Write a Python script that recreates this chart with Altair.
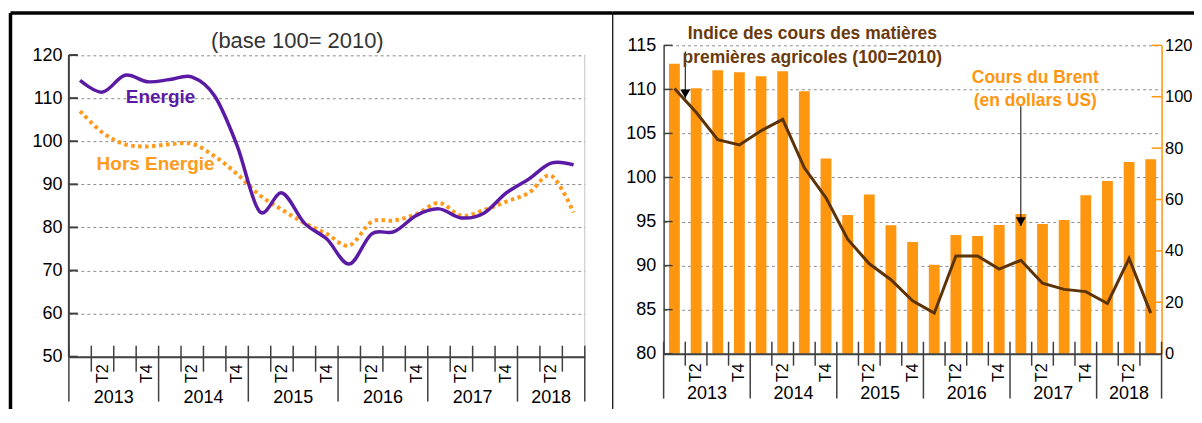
import altair as alt
import pandas as pd

FONT = "Liberation Sans"
PURPLE = "#5b1aa5"
ORANGE = "#ff9a1c"
BAR = "#ff960f"
BROWN = "#5c3307"
BROWN_TXT = "#6b3a0c"
GRID = "#8c8c8c"
AXIS = "#404040"

# ---------------- data ----------------
quarters = ["2013T1", "2013T2", "2013T3", "2013T4",
            "2014T1", "2014T2", "2014T3", "2014T4",
            "2015T1", "2015T2", "2015T3", "2015T4",
            "2016T1", "2016T2", "2016T3", "2016T4",
            "2017T1", "2017T2", "2017T3", "2017T4",
            "2018T1", "2018T2", "2018T3"]
quarter_labels = ["", "T2", "", "T4", "", "T2", "", "T4", "", "T2", "", "T4",
                  "", "T2", "", "T4", "", "T2", "", "T4", "", "T2", ""]
year_starts = ["2013T1", "2014T1", "2015T1", "2016T1", "2017T1", "2018T1"]
years_full = ["2013", "2014", "2015", "2016", "2017"]
years_full_mid = ["2013T3", "2014T3", "2015T3", "2016T3", "2017T3"]
year_last = ["2018"]
year_last_mid = ["2018T2"]

energie = [114.1, 111.4, 115.3, 113.8, 114.3, 114.9, 110.5, 99.0, 83.7, 88.0,
           81.0, 77.3, 71.5, 78.5, 79.0, 82.8, 84.3, 82.2, 83.3, 88.0,
           91.2, 94.9, 94.5]
hors_energie = [107.0, 102.0, 99.3, 98.8, 99.3, 99.4, 96.5, 92.4, 87.5, 84.1,
                81.0, 78.5, 75.8, 81.3, 81.6, 83.1, 85.7, 82.7, 84.0, 86.0,
                88.0, 92.0, 83.5]
brent = [112.8, 103.3, 110.3, 109.5, 108.0, 109.9, 102.1, 76.0, 54.0, 62.0,
         50.0, 43.5, 34.6, 46.2, 45.8, 50.1, 54.4, 50.5, 52.0, 61.7,
         67.2, 74.6, 75.7]
agricole = [110.1, 107.4, 104.3, 103.7, 105.3, 106.6, 101.1, 97.7, 93.0, 90.2,
            88.4, 86.0, 84.6, 91.1, 91.1, 89.6, 90.6, 88.0, 87.3, 87.05,
            85.7, 90.8, 84.6]

left_ticks = [50, 60, 70, 80, 90, 100, 110, 120]
agri_ticks = [80, 85, 90, 95, 100, 105, 110, 115]
brent_ticks = [0, 20, 40, 60, 80, 100, 120]

caption = "(base 100= 2010)"
label_energie = "Energie"
label_hors = "Hors Energie"
label_agri = "Indice des cours des matières\npremières agricoles (100=2010)"
label_brent = "Cours du Brent\n(en dollars US)"

# annotation arrows (value coordinates)
agri_arrow = {"q": ["2013T2"], "top": [114.3], "tip": [109.0], "head": [109.5]}
brent_arrow = {"q": ["2017T1"], "top": [96.3], "tip": [49.7], "head": [51.4]}

# ---------------- geometry ----------------
W1, H1 = 517, 312
W2, H2 = 499, 309
LEFT_DOMAIN = [50, 122.25]
FRAME_BOTTOM = 372

df_left = pd.DataFrame({"q": quarters, "Energie": energie, "Hors": hors_energie})
df_right = pd.DataFrame({"q": quarters, "Brent": brent, "Agri": agricole})
df_qlab = pd.DataFrame({"q": quarters, "lab": quarter_labels})
df_qlab = df_qlab[df_qlab["lab"] != ""]
df_minor = pd.DataFrame({"q": [q for q in quarters if q not in year_starts]})
df_major = pd.DataFrame({"q": year_starts})
df_end = pd.DataFrame({"q": [quarters[-1]]})
df_year_full = pd.DataFrame({"q": years_full_mid, "y": years_full})
df_year_last = pd.DataFrame({"q": year_last_mid, "y": year_last})


def xq(axis, bp=None, field="q"):
    kw = dict(axis=axis,
              scale=alt.Scale(type="band", domain=quarters, paddingInner=0, paddingOuter=0))
    if bp is not None:
        kw["bandPosition"] = bp
    return alt.X(f"{field}:N", **kw)


def one():
    return pd.DataFrame({"a": [0]})


def x_axis_layers(axis, H, tick_top, tick_bot, sep_bot, tlab_y, year_y):
    minor = alt.Chart(df_minor).mark_rule(color=AXIS, strokeWidth=1.5).encode(
        x=xq(axis, 0), y=alt.value(H - tick_top), y2=alt.value(H + tick_bot))
    major = alt.Chart(df_major).mark_rule(color=AXIS, strokeWidth=1.5).encode(
        x=xq(axis, 0), y=alt.value(H - tick_top), y2=alt.value(H + sep_bot))
    end = alt.Chart(df_end).mark_rule(color=AXIS, strokeWidth=1.5).encode(
        x=xq(axis, 1), y=alt.value(H - tick_top), y2=alt.value(H + sep_bot))
    tlab = alt.Chart(df_qlab).mark_text(
        font=FONT, fontSize=16, angle=270, align="center", baseline="middle", color="#000"
    ).encode(x=xq(axis, 0.5), y=alt.value(H + tlab_y), text="lab:N")
    yfull = alt.Chart(df_year_full).mark_text(
        font=FONT, fontSize=18, align="center", baseline="middle", color="#000"
    ).encode(x=xq(axis, 0), y=alt.value(H + year_y), text="y:N")
    ylast = alt.Chart(df_year_last).mark_text(
        font=FONT, fontSize=18, align="center", baseline="middle", color="#000"
    ).encode(x=xq(axis, 0.5), y=alt.value(H + year_y), text="y:N")
    return [minor, major, end, tlab, yfull, ylast]


# ---------------- left panel ----------------
XAX_L = alt.Axis(title=None, labels=False, ticks=False, grid=False, domain=True,
                 domainColor=AXIS, domainWidth=2, zindex=1)
YAX_L = alt.Axis(title=None, values=left_ticks, grid=True, gridDash=[3, 3], gridColor=GRID,
                 gridWidth=1, ticks=False, domain=False, labelFontSize=18, labelPadding=7,
                 labelColor="#000", labelFont=FONT)


def yl(field):
    return alt.Y(f"{field}:Q", scale=alt.Scale(domain=LEFT_DOMAIN, nice=False, zero=False),
                 axis=YAX_L)


line_e = alt.Chart(df_left).mark_line(
    color=PURPLE, strokeWidth=3.5, interpolate="cardinal"
).encode(x=xq(XAX_L), y=yl("Energie"))
line_h = alt.Chart(df_left).mark_line(
    color=ORANGE, strokeWidth=4, strokeDash=[3.5, 3.5], interpolate="cardinal"
).encode(x=xq(XAX_L), y=yl("Hors"))

df_yline = pd.DataFrame({"lo": [left_ticks[0]], "hi": [left_ticks[-1]]})
yaxis_line = alt.Chart(df_yline).mark_rule(color=AXIS, strokeWidth=2).encode(
    x=alt.value(0), y=yl("lo"), y2="hi")
right_border = alt.Chart(df_yline).mark_rule(color="#c4c4c4", strokeWidth=1).encode(
    x=alt.value(W1), y=yl("lo"), y2="hi")
yticks_l = alt.Chart(pd.DataFrame({"v": left_ticks})).mark_rule(color=AXIS, strokeWidth=2).encode(
    x=alt.value(0), x2=alt.value(9), y=yl("v"))

lab_e = alt.Chart(pd.DataFrame({"q": ["2014T1"], "v": [110.2], "t": [label_energie]})).mark_text(
    font=FONT, fontSize=19, fontWeight="bold", color=PURPLE, align="center", baseline="middle", dx=2
).encode(x=xq(XAX_L, 0), y=yl("v"), text="t:N")
lab_h = alt.Chart(pd.DataFrame({"q": ["2014T1"], "v": [94.6], "t": [label_hors]})).mark_text(
    font=FONT, fontSize=19, fontWeight="bold", color=ORANGE, align="center", baseline="middle", dx=-3
).encode(x=xq(XAX_L, 0), y=yl("v"), text="t:N")
cap = alt.Chart(pd.DataFrame({"t": [caption]})).mark_text(
    font=FONT, fontSize=22, color="#333", align="center", baseline="middle"
).encode(x=alt.value(229), y=alt.value(-4), text="t:N")

frame_top_l = alt.Chart(one()).mark_rule(color="#000", strokeWidth=3.5).encode(
    x=alt.value(-58.5), x2=alt.value(545), y=alt.value(-32.5))
frame_left = alt.Chart(one()).mark_rule(color="#000", strokeWidth=3.5).encode(
    x=alt.value(-58.5), y=alt.value(-32.5), y2=alt.value(FRAME_BOTTOM))
divider = alt.Chart(one()).mark_rule(color="#000", strokeWidth=1.2).encode(
    x=alt.value(545), y=alt.value(-32.5), y2=alt.value(FRAME_BOTTOM))

left = alt.layer(
    line_h, line_e, yaxis_line, right_border, yticks_l,
    *x_axis_layers(XAX_L, H1, 11, 15, 45, 17, 41),
    lab_e, lab_h, cap, frame_top_l, frame_left, divider
).properties(width=W1, height=H1)

# ---------------- right panel ----------------
XAX_R = alt.Axis(title=None, labels=False, ticks=False, grid=False, domain=True,
                 domainColor=AXIS, domainWidth=2, zindex=1)
YAX_A = alt.Axis(title=None, orient="left", values=agri_ticks, grid=True, gridDash=[3, 3],
                 gridColor=GRID, gridWidth=1, ticks=False, domain=True, domainColor=AXIS,
                 domainWidth=1.5, labelFontSize=18, labelPadding=8, labelColor="#000",
                 labelFont=FONT)
YAX_B = alt.Axis(title=None, orient="right", values=brent_ticks, grid=False, ticks=False,
                 domain=True, domainColor=BAR, domainWidth=1.5, labelFontSize=16.5,
                 labelPadding=3, labelColor="#000", labelFont=FONT)


def ya(field):
    return alt.Y(f"{field}:Q", scale=alt.Scale(domain=[80, 115], nice=False, zero=False),
                 axis=YAX_A)


def yb(field):
    return alt.Y(f"{field}:Q", scale=alt.Scale(domain=[0, 120], nice=False),
                 axis=YAX_B)


bars = alt.Chart(df_right).mark_bar(color=BAR, width=alt.RelativeBandSize(0.5)).encode(
    x=xq(XAX_R), y=yb("Brent"))
yticks_b = alt.Chart(pd.DataFrame({"v": brent_ticks})).mark_rule(color=BAR, strokeWidth=1.5).encode(
    x=alt.value(W2 - 10), x2=alt.value(W2), y=yb("v"))
df_ba = pd.DataFrame(brent_arrow)
b_line = alt.Chart(df_ba).mark_rule(color="#000", strokeWidth=1).encode(
    x=xq(XAX_R, 0.5), y=yb("top"), y2="tip")
b_head = alt.Chart(df_ba).mark_point(shape="triangle-down", filled=True, color="#000",
                                     size=100, opacity=1).encode(
    x=xq(XAX_R, 0.5), y=yb("head"))
brent_group = alt.layer(bars, yticks_b, b_line, b_head)

line_a = alt.Chart(df_right).mark_line(color=BROWN, strokeWidth=3).encode(
    x=xq(XAX_R), y=ya("Agri"))
yticks_a = alt.Chart(pd.DataFrame({"v": agri_ticks})).mark_rule(color=AXIS, strokeWidth=1.5).encode(
    x=alt.value(0), x2=alt.value(9), y=ya("v"))
df_aa = pd.DataFrame(agri_arrow)
a_line = alt.Chart(df_aa).mark_rule(color="#000", strokeWidth=1).encode(
    x=xq(XAX_R, 0), y=ya("top"), y2="tip")
a_head = alt.Chart(df_aa).mark_point(shape="triangle-down", filled=True, color="#000",
                                     size=100, opacity=1).encode(
    x=xq(XAX_R, 0), y=ya("head"))
agri_group = alt.layer(line_a, yticks_a, a_line, a_head)

txt_agri = alt.Chart(pd.DataFrame({"t": [label_agri]})).mark_text(
    font=FONT, fontSize=17.5, fontWeight="bold", color=BROWN_TXT, align="center",
    baseline="alphabetic", lineBreak="\n", lineHeight=24
).encode(x=alt.value(149), y=alt.value(-6), text="t:N")
txt_brent = alt.Chart(pd.DataFrame({"t": [label_brent]})).mark_text(
    font=FONT, fontSize=17.5, fontWeight="bold", color=BAR, align="center",
    baseline="alphabetic", lineBreak="\n", lineHeight=23.5
).encode(x=alt.value(372.5), y=alt.value(37.5), text="t:N")
frame_top_r = alt.Chart(one()).mark_rule(color="#000", strokeWidth=3.5).encode(
    x=alt.value(-51), x2=alt.value(W2 + 40), y=alt.value(-32.5))

right = alt.layer(
    brent_group, agri_group,
    *x_axis_layers(XAX_R, H2, 12, 12, 45, 19, 40.5),
    txt_agri, txt_brent, frame_top_r
).resolve_scale(y="independent").properties(width=W2, height=H2)

chart = alt.hconcat(left, right, spacing=79, bounds="flush").properties(
    padding={"left": 0, "top": 2, "right": -9.5, "bottom": -10}
).configure(font=FONT).configure_view(stroke=None)

chart.save("out.html", embed_options={"renderer": "svg", "actions": False})
